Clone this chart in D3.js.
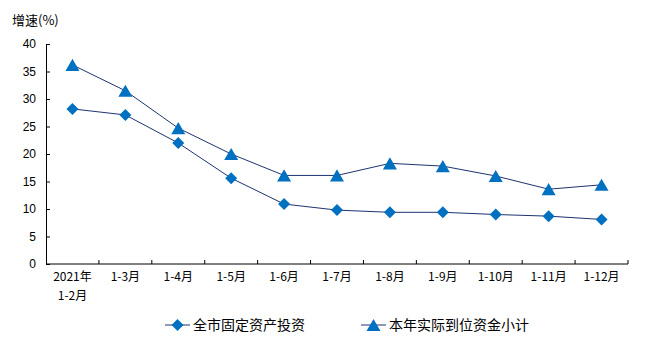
<!DOCTYPE html>
<html>
<head>
<meta charset="utf-8">
<script src="https://cdn.jsdelivr.net/npm/d3@7"></script>
<style>
  body { margin: 0; background: #fff; }
  svg { display: block; font-family: "Noto Sans CJK SC", "DejaVu Sans", sans-serif; }
</style>
</head>
<body>
<div id="chart"></div>
<script>
// categories (first one split over two lines)
const categories = ["2021年\n1-2月", "1-3月", "1-4月", "1-5月", "1-6月", "1-7月", "1-8月", "1-9月", "1-10月", "1-11月", "1-12月"];
const investValues = [28.2, 27.1, 22.0, 15.6, 10.9, 9.8, 9.4, 9.4, 9.0, 8.7, 8.1];
const fundValues = [36.2, 31.5, 24.7, 20.0, 16.1, 16.1, 18.3, 17.8, 16.0, 13.6, 14.4];
const seriesNames = ["全市固定资产投资", "本年实际到位资金小计"];
const yTicks = [0, 5, 10, 15, 20, 25, 30, 35, 40];

const width = 663, height = 352;
const margin = { top: 44, right: 35, bottom: 88, left: 46 };
const innerW = width - margin.left - margin.right;
const innerH = height - margin.top - margin.bottom;

const lineColor = "#1f3370";
const markColor = "#0070c0";

const svg = d3.select("#chart").append("svg")
  .attr("width", width)
  .attr("height", height);

const g = svg.append("g")
  .attr("transform", `translate(${margin.left},${margin.top})`);

const x = d3.scaleBand()
  .domain(categories)
  .range([0, innerW]);

const y = d3.scaleLinear()
  .domain([0, 40])
  .range([innerH, 0]);

// y axis, ticks pointing inward
const yAxis = g.append("g")
  .call(d3.axisRight(y).tickValues(yTicks).tickSize(4).tickFormat(d3.format("d")));
yAxis.select(".domain").attr("stroke", "#000");
yAxis.selectAll(".tick line").attr("stroke", "#000");
yAxis.selectAll(".tick text")
  .attr("x", -10)
  .attr("text-anchor", "end")
  .attr("font-size", 12)
  .attr("fill", "#000");

// x axis line + tick marks at band boundaries
g.append("line")
  .attr("x1", 0).attr("x2", innerW)
  .attr("y1", innerH).attr("y2", innerH)
  .attr("stroke", "#000");

const bounds = categories.map(c => x(c)).concat([innerW]).slice(1);
g.selectAll(".xtick")
  .data(bounds)
  .enter()
  .append("line")
  .attr("x1", d => d).attr("x2", d => d)
  .attr("y1", innerH).attr("y2", innerH - 4)
  .attr("stroke", "#000");

// x labels
g.selectAll(".xlab")
  .data(categories)
  .enter()
  .append("text")
  .attr("text-anchor", "middle")
  .attr("font-size", 12)
  .attr("fill", "#000")
  .attr("transform", d => `translate(${x(d) + x.bandwidth() / 2},${innerH + 17})`)
  .each(function(d) {
    d.split("\n").forEach((part, i) => {
      d3.select(this).append("tspan")
        .attr("x", 0)
        .attr("dy", i === 0 ? 0 : 19)
        .text(part);
    });
  });

// y title
svg.append("text")
  .attr("x", 12)
  .attr("y", 25)
  .attr("font-size", 13)
  .attr("fill", "#000")
  .text("增速(%)");

const cx = (d, i) => x(categories[i]) + x.bandwidth() / 2;

const line = d3.line()
  .x((d, i) => cx(d, i))
  .y(d => y(d));

g.append("path")
  .datum(investValues)
  .attr("fill", "none")
  .attr("stroke", lineColor)
  .attr("stroke-width", 1)
  .attr("d", line);

g.append("path")
  .datum(fundValues)
  .attr("fill", "none")
  .attr("stroke", lineColor)
  .attr("stroke-width", 1)
  .attr("d", line);

const diamond = d3.symbol().type(d3.symbolSquare).size(72)();
const triangle = d3.symbol().type(d3.symbolTriangle).size(85)();

g.selectAll(".dia")
  .data(investValues)
  .enter()
  .append("path")
  .attr("d", diamond)
  .attr("fill", markColor)
  .attr("transform", (d, i) => `translate(${cx(d, i)},${y(d)}) rotate(45)`);

// triangle centred on its box, not its centroid
g.selectAll(".tri")
  .data(fundValues)
  .enter()
  .append("path")
  .attr("d", triangle)
  .attr("fill", markColor)
  .attr("transform", (d, i) => `translate(${cx(d, i)},${y(d) + 2})`);

// legend
const legend = svg.append("g");
const legendItems = [
  { name: seriesNames[0], sym: diamond, rot: 45, dy: 0, x0: 165 },
  { name: seriesNames[1], sym: triangle, rot: 0, dy: 2, x0: 361 }
];
legendItems.forEach(it => {
  const lg = legend.append("g").attr("transform", `translate(${it.x0},325)`);
  lg.append("line")
    .attr("x1", 0).attr("x2", 25)
    .attr("stroke", lineColor);
  lg.append("path")
    .attr("d", it.sym)
    .attr("fill", markColor)
    .attr("transform", `translate(12.5,${it.dy}) rotate(${it.rot})`);
  lg.append("text")
    .attr("x", 28)
    .attr("y", 5)
    .attr("font-size", 14)
    .attr("fill", "#000")
    .text(it.name);
});
</script>
</body>
</html>
